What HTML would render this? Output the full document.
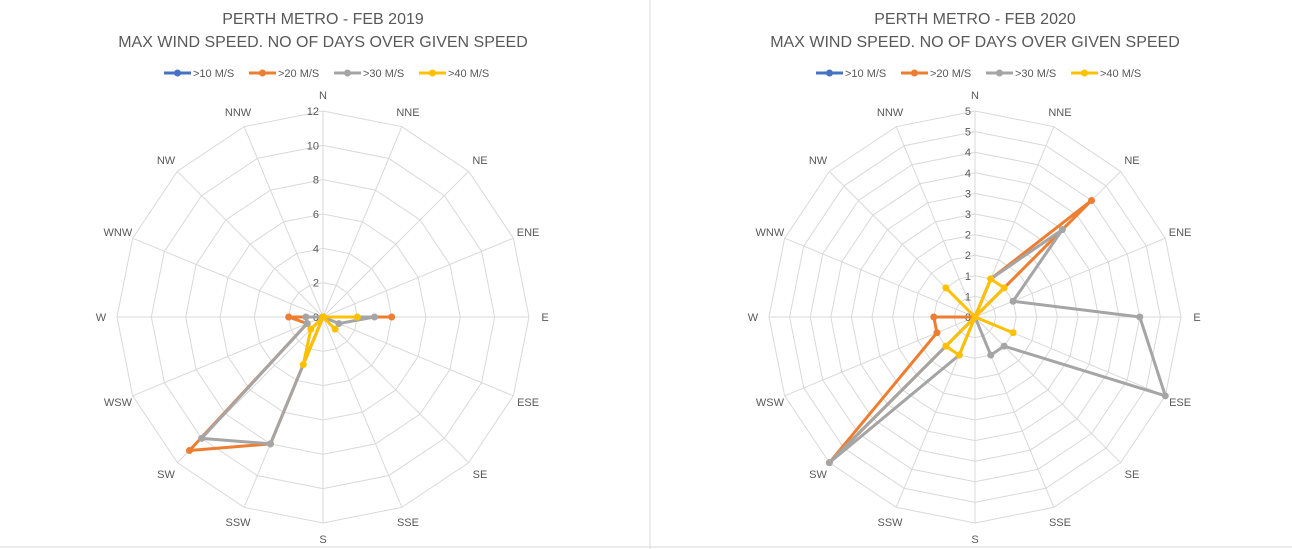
<!DOCTYPE html>
<html><head><meta charset="utf-8"><style>
body{margin:0;background:#fff;width:1292px;height:549px;overflow:hidden}
svg{display:block;font-family:"Liberation Sans",Arial,sans-serif}
</style></head><body>
<svg id="svg" width="1292" height="549">
<rect width="1292" height="549" fill="#fff"/>
<line x1="650" y1="0" x2="650" y2="549" stroke="#d9d9d9"/>
<line x1="0" y1="547" x2="1292" y2="547" stroke="#d9d9d9"/>
</svg>
<script>
const directions=["N","NNE","NE","ENE","E","ESE","SE","SSE","S","SSW","SW","WSW","W","WNW","NW","NNW"];
const seriesNames=[">10 M/S",">20 M/S",">30 M/S",">40 M/S"];
const seriesColors=["#4472C4","#ED7D31","#A5A5A5","#FFC000"];
// Chart 1: Feb 2019
const c1_10=[0,0,0,0,0,0,0,0,0,0,0,0,0,0,0,0];
const c1_20=[0,0,0,0,4,0,0,0,0,8,11,1,2,0,0,0];
const c1_30=[0,0,0,0,3,1,0,0,0,8,10,1,1,0,0,0];
const c1_40=[0,0,0,0,2,0,1,0,0,3,1,0,0,0,0,0];
const c1_ticks=[0,2,4,6,8,10,12];
// Chart 2: Feb 2020
const c2_10=[0,0,0,0,0,0,0,0,0,0,0,0,0,0,0,0];
const c2_20=[0,1,4,0,0,0,0,0,0,0,5,1,1,0,0,0];
const c2_30=[0,1,3,1,4,5,1,1,0,1,5,0,0,0,0,0];
const c2_40=[0,1,1,0,0,1,0,0,0,1,1,0,0,0,1,0];
const c2_ticks=[0,0.5,1,1.5,2,2.5,3,3.5,4,4.5,5];
const c2_tickLabels=["0","1","1","2","2","3","3","4","4","5","5"];

const NS="http://www.w3.org/2000/svg";
const svg=document.getElementById('svg');
function mk(tag,attrs,parent){const e=document.createElementNS(NS,tag);for(const k in attrs)e.setAttribute(k,attrs[k]);(parent||svg).appendChild(e);return e;}

function drawChart(cx,cy,R,max,ticks,tickLabels,series,title1,title2,prefix){
  const g=mk('g',{});
  
  
  const n=directions.length;
  const pt=(i,v)=>{const a=i/n*2*Math.PI;const r=v/max*R;return [cx+r*Math.sin(a),cy-r*Math.cos(a)];};
  // grid
  ticks.forEach((t,ti)=>{
    if(t===0)return;
    const pts=directions.map((d,i)=>pt(i,t).join(',')).join(' ');
    const p=mk('polygon',{points:pts,fill:'none',stroke:'#d9d9d9','stroke-width':1},g);
    
    
  });
  directions.forEach((d,i)=>{
    const [x,y]=pt(i,max);
    const l=mk('line',{x1:cx,y1:cy,x2:x,y2:y,stroke:'#d9d9d9','stroke-width':1},g);
    
    
    const a=i/n*2*Math.PI;const lr=R+16;
    const t=mk('text',{x:cx+lr*Math.sin(a),y:cy-lr*Math.cos(a)+4,'text-anchor':'middle','font-size':11,fill:'#595959'},g);
    t.textContent=d;
    
    
  });
  ticks.forEach((t,ti)=>{
    const y=cy-t/max*R;
    const tx=mk('text',{x:cx-4,y:y+4,'text-anchor':'end','font-size':11,fill:'#595959'},g);
    tx.textContent=tickLabels?tickLabels[ti]:String(t);
    
    
  });
  series.forEach((vals,si)=>{
    const pts=vals.map((v,i)=>pt(i,v).join(',')).join(' ');
    const p=mk('polygon',{points:pts,fill:'none',stroke:seriesColors[si],'stroke-width':3,'stroke-linejoin':'round'},g);
    
    
    vals.forEach((v,i)=>{
      const [x,y]=pt(i,v);
      const c=mk('circle',{cx:x,cy:y,r:3.5,fill:seriesColors[si]},g);
      
      
    });
  });
  const t1=mk('text',{x:cx,y:24,'text-anchor':'middle','font-size':16,fill:'#595959'},g);
  t1.textContent=title1;
  
  
  const t2=mk('text',{x:cx,y:47,'text-anchor':'middle','font-size':16,fill:'#595959'},g);
  t2.textContent=title2;
  
  
  const lx=[cx-159,cx-74,cx+11,cx+96];
  seriesNames.forEach((s,si)=>{
    const lg=mk('g',{},g);
    
    
    mk('line',{x1:lx[si],y1:73,x2:lx[si]+27,y2:73,stroke:seriesColors[si],'stroke-width':3},lg);
    mk('circle',{cx:lx[si]+13.5,cy:73,r:3.5,fill:seriesColors[si]},lg);
    const tt=mk('text',{x:lx[si]+29,y:77,'font-size':11,fill:'#595959'},lg);
    tt.textContent=s;
  });
}
drawChart(323,317,206,12,c1_ticks,null,[c1_10,c1_20,c1_30,c1_40],"PERTH METRO - FEB 2019","MAX WIND SPEED. NO OF DAYS OVER GIVEN SPEED","feb-2019");
drawChart(975,317,206,5,c2_ticks,c2_tickLabels,[c2_10,c2_20,c2_30,c2_40],"PERTH METRO - FEB 2020","MAX WIND SPEED. NO OF DAYS OVER GIVEN SPEED","feb-2020");
</script>
</body></html>
